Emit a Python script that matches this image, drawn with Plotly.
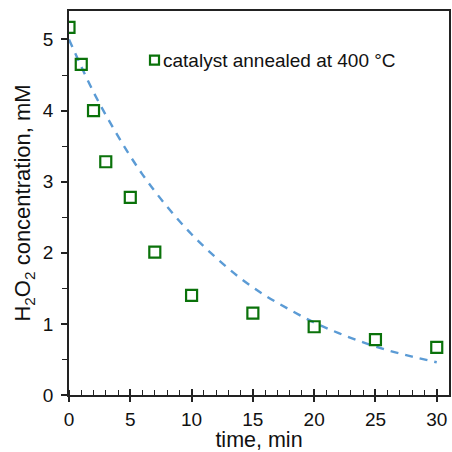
import plotly.graph_objects as go

# measured points
time_min = [0, 1, 2, 3, 5, 7, 10, 15, 20, 25, 30]
h2o2_mM = [5.17, 4.65, 4.00, 3.28, 2.78, 2.01, 1.40, 1.15, 0.96, 0.78, 0.67]

# dashed fit curve
fit_t = [0, 2, 4, 6, 8, 10, 12, 14, 16, 18, 20, 22, 24, 26, 28, 30]
fit_c = [5.00, 4.26, 3.64, 3.10, 2.65, 2.26, 1.93, 1.64, 1.40, 1.20, 1.02, 0.87, 0.74, 0.63, 0.54, 0.46]

series_label = "catalyst annealed at 400 °C"

font = "Liberation Sans, Arial, sans-serif"
green = "#0a720a"

fig = go.Figure()
fig.add_trace(go.Scatter(x=fit_t, y=fit_c, mode="lines", showlegend=False,
                         line=dict(color="#5B9BD5", width=2.4, dash="8px,7px", shape="spline")))
fig.add_trace(go.Scatter(x=time_min, y=h2o2_mM, mode="markers", showlegend=False,
                         name=series_label,
                         marker=dict(symbol="square-open", size=11, color=green,
                                     line=dict(width=2.2, color=green))))
# invisible trace on second x axis so inner half of major ticks is drawn
fig.add_trace(go.Scatter(x=[0, 31], y=[0, 0], xaxis="x2", mode="lines",
                         line=dict(width=0), showlegend=False, hoverinfo="skip"))

# legend drawn by hand (tight gap between symbol and text)
fig.add_shape(type="rect", xref="paper", yref="paper",
              xsizemode="pixel", ysizemode="pixel",
              xanchor=0.225, yanchor=0.872, x0=-4.5, x1=4.5, y0=-4.5, y1=4.5,
              line=dict(color=green, width=2.2), fillcolor="rgba(0,0,0,0)")
fig.add_annotation(x=0.243, y=0.872, xref="paper", yref="paper",
                   xanchor="left", yanchor="middle", showarrow=False,
                   text=series_label, font=dict(size=19, color="#111"))

fig.update_layout(
    width=452, height=452,
    margin=dict(l=69, r=1, t=11, b=57),
    plot_bgcolor="white", paper_bgcolor="white",
    font=dict(family=font, size=19, color="#111"),
    showlegend=False,
    xaxis=dict(range=[0, 31], tickvals=[0, 5, 10, 15, 20, 25, 30],
               ticks="outside", ticklen=5, tickwidth=1.5, tickcolor="#222",
               showline=True, linecolor="#222", linewidth=1.8, mirror=True,
               showgrid=False, zeroline=False, ticklabelstandoff=1,
               minor=dict(dtick=1, tick0=0, ticks="inside", ticklen=5,
                          tickwidth=1.3, tickcolor="#222", showgrid=False),
               title=dict(text="time, min", font=dict(size=21.5), standoff=6)),
    xaxis2=dict(range=[0, 31], overlaying="x", side="bottom", anchor="y",
                tickvals=[0, 5, 10, 15, 20, 25, 30], ticks="inside", ticklen=6,
                tickwidth=1.5, tickcolor="#222", showticklabels=False,
                showgrid=False, zeroline=False, showline=False),
    yaxis=dict(range=[0, 5.4], tickvals=[0, 1, 2, 3, 4, 5],
               ticks="outside", ticklen=6, tickwidth=1.5, tickcolor="#222",
               showline=True, linecolor="#222", linewidth=1.8, mirror=True,
               showgrid=False, zeroline=False, ticklabelstandoff=4,
               minor=dict(dtick=0.5, ticks="outside", ticklen=5,
                          tickwidth=1.3, tickcolor="#222", showgrid=False),
               title=dict(text="H<sub>2</sub>O<sub>2</sub> concentration, mM",
                          font=dict(size=22), standoff=6)),
)

fig.write_html("out.html", config={"displayModeBar": False},
               post_script="document.body.style.margin='0';")
